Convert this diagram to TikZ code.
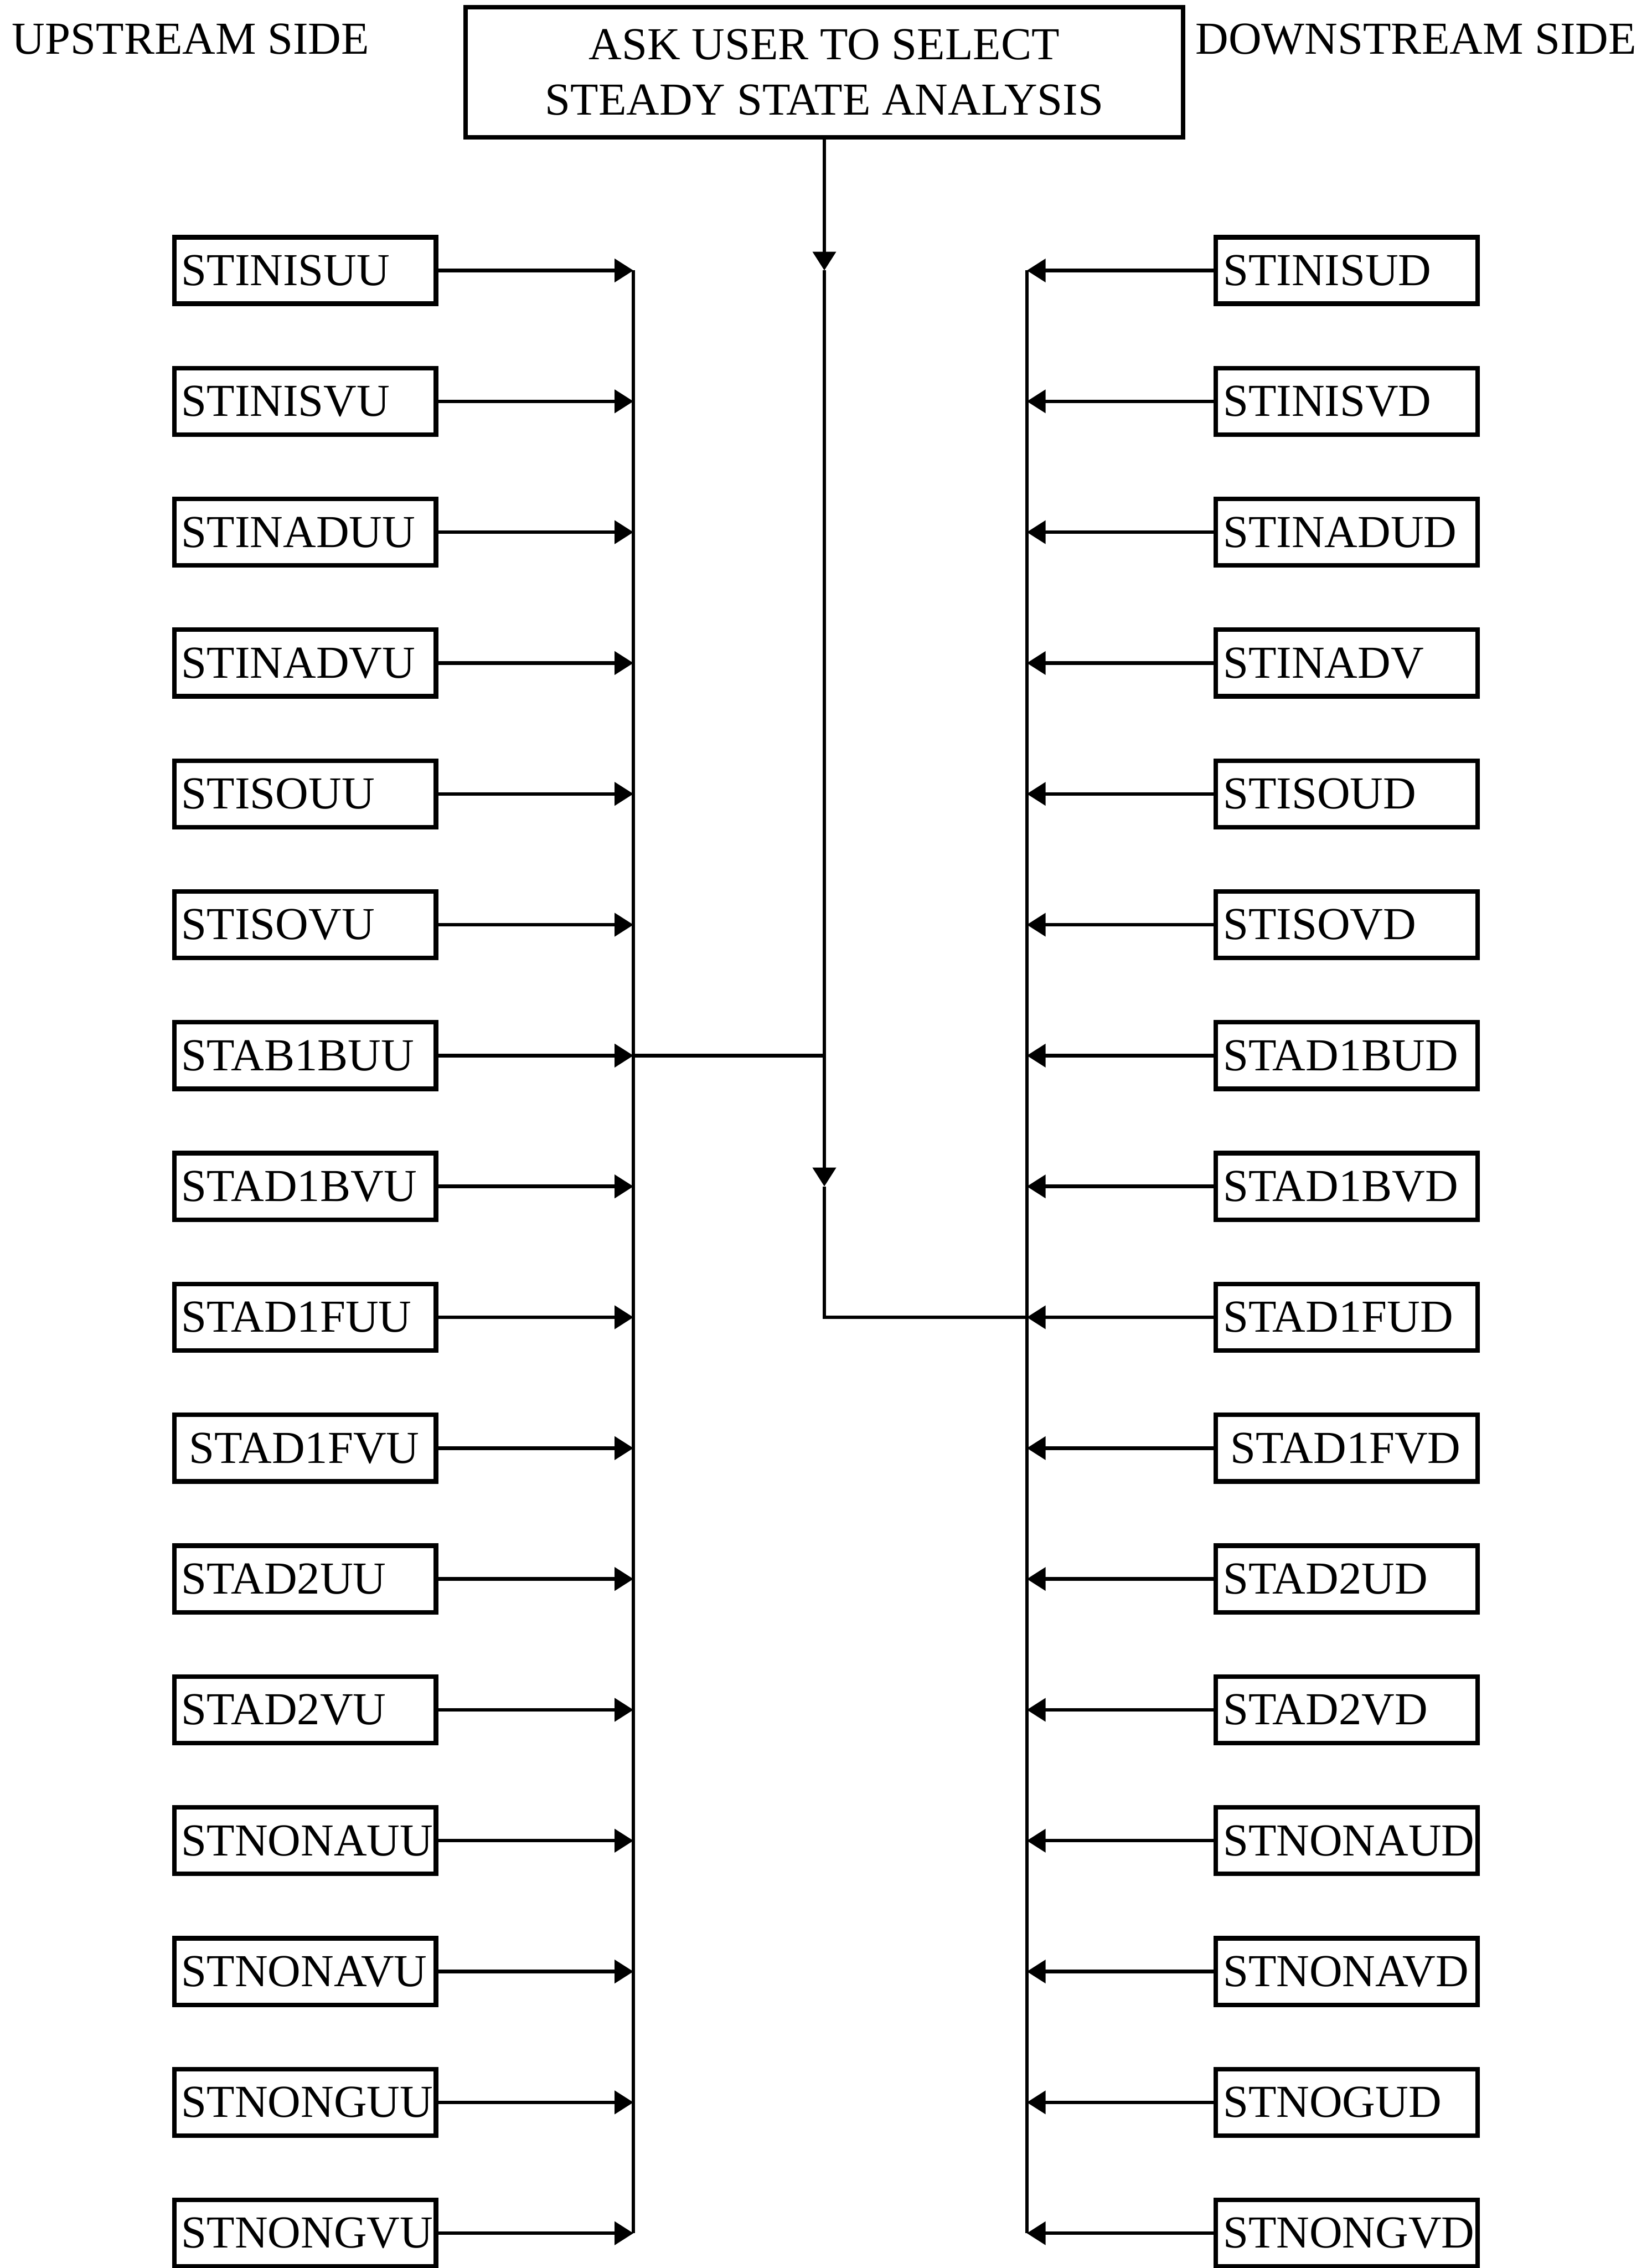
\documentclass[tikz,border=0pt]{standalone}
\usepackage{fontspec}
\setmainfont{Liberation Serif}
\usetikzlibrary{positioning, arrows.meta}

\begin{document}
\begin{tikzpicture}[node distance=0.413cm, font=\fontsize{9}{10.8}\selectfont]
    \tikzstyle{block} = [rectangle, draw, line width=0.9pt, text width=1.71cm, align=left, inner xsep=0.05cm, inner ysep=0.02cm, minimum height=0.46cm]
    \tikzstyle{ask} = [rectangle, draw, line width=0.9pt, minimum width=4.96cm, minimum height=0.90cm, align=center]
    \tikzstyle{arrow} = [line width=0.7pt, -{Triangle[length=3.7pt, width=4.5pt]}]
    \tikzstyle{bus} = [line width=0.7pt]

    \useasboundingbox (0,0) rectangle (11.42,-15.68);

    \node [ask] (select) at (5.70,-0.50) {ASK USER TO SELECT\\STEADY STATE ANALYSIS};
    \node [anchor=west] (upside) at (-0.04,-0.27) {UPSTREAM SIDE};
    \node [anchor=east] (downside) at (11.44,-0.27) {DOWNSTREAM SIDE};

    \coordinate (lbus) at (4.38,0);
    \coordinate (rbus) at (7.10,0);

    % upstream side
    \node [block] (u1) at (2.11,-1.87) {STINISUU};
    \node [block, below=of u1] (u2) {STINISVU};
    \node [block, below=of u2] (u3) {STINADUU};
    \node [block, below=of u3] (u4) {STINADVU};
    \node [block, below=of u4] (u5) {STISOUU};
    \node [block, below=of u5] (u6) {STISOVU};
    \node [block, below=of u6] (u7) {STAB1BUU};
    \node [block, below=of u7] (u8) {STAD1BVU};
    \node [block, below=of u8] (u9) {STAD1FUU};
    \node [block, below=of u9] (u10) {\,STAD1FVU};
    \node [block, below=of u10] (u11) {STAD2UU};
    \node [block, below=of u11] (u12) {STAD2VU};
    \node [block, below=of u12] (u13) {STNONAUU};
    \node [block, below=of u13] (u14) {STNONAVU};
    \node [block, below=of u14] (u15) {STNONGUU};
    \node [block, below=of u15] (u16) {STNONGVU};

    % downstream side
    \node [block, right=5.36cm of u1] (d1) {STINISUD};
    \node [block, right=5.36cm of u2] (d2) {STINISVD};
    \node [block, right=5.36cm of u3] (d3) {STINADUD};
    \node [block, right=5.36cm of u4] (d4) {STINADV};
    \node [block, right=5.36cm of u5] (d5) {STISOUD};
    \node [block, right=5.36cm of u6] (d6) {STISOVD};
    \node [block, right=5.36cm of u7] (d7) {STAD1BUD};
    \node [block, right=5.36cm of u8] (d8) {STAD1BVD};
    \node [block, right=5.36cm of u9] (d9) {STAD1FUD};
    \node [block, right=5.36cm of u10] (d10) {\,STAD1FVD};
    \node [block, right=5.36cm of u11] (d11) {STAD2UD};
    \node [block, right=5.36cm of u12] (d12) {STAD2VD};
    \node [block, right=5.36cm of u13] (d13) {STNONAUD};
    \node [block, right=5.36cm of u14] (d14) {STNONAVD};
    \node [block, right=5.36cm of u15] (d15) {STNOGUD};
    \node [block, right=5.36cm of u16] (d16) {STNONGVD};

    \foreach \i in {1,...,16} {
        \draw [arrow] (u\i) -- (u\i -| lbus);
        \draw [arrow] (d\i) -- (d\i -| rbus);
    }
    \draw [bus] (u1 -| lbus) -- (u16 -| lbus);
    \draw [bus] (d1 -| rbus) -- (d16 -| rbus);

    \draw [arrow] (select) -- (select |- u1);
    \draw [arrow] (select |- u1) -- (select |- u8);
    \draw [bus] (select |- u8) -- (select |- u9) -- (d9 -| rbus);
    \draw [bus] (u7 -| lbus) -- (select |- u7);
\end{tikzpicture}
\end{document}
